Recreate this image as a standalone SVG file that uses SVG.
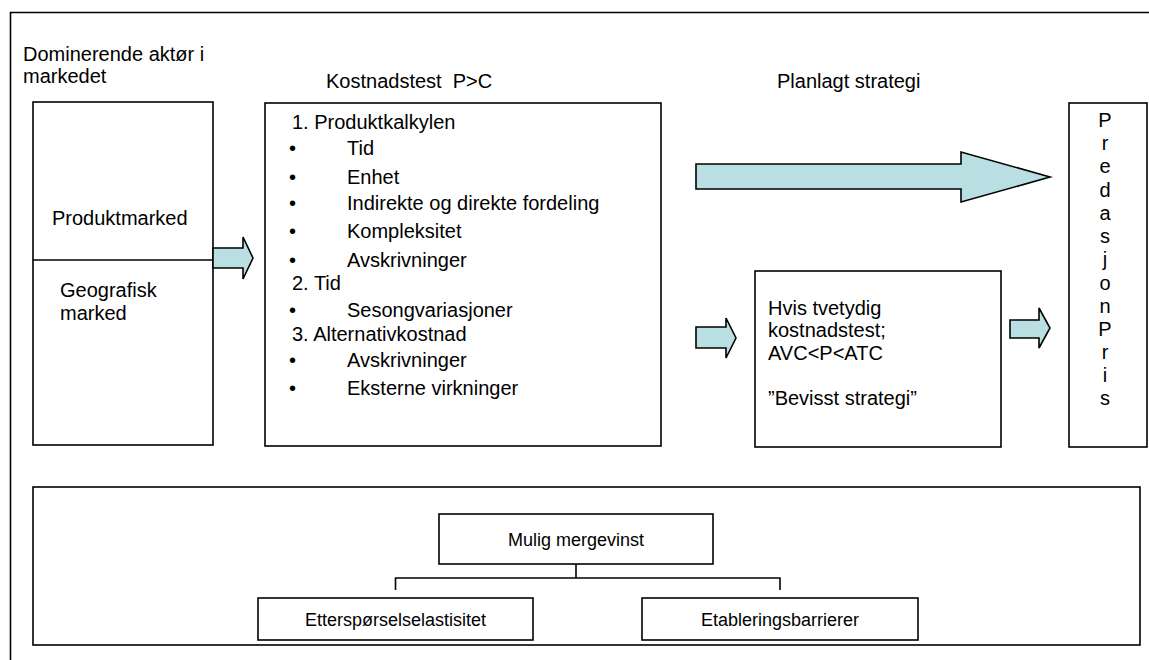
<svg xmlns="http://www.w3.org/2000/svg" width="1149" height="660" viewBox="0 0 1149 660">
<style>
  text { font-family: "Liberation Sans", Arial, sans-serif; font-size: 20px; fill: #000; }
  .box { fill: #fff; stroke: #000; stroke-width: 1.6; }
  .frame { fill: none; stroke: #000; stroke-width: 1.6; }
  .arrow { fill: #B9DFE2; stroke: #000; stroke-width: 1.6; stroke-linejoin: miter; }
  .line { fill: none; stroke: #000; stroke-width: 1.6; }
  .small { font-size: 18px; }
  .mid { text-anchor: middle; }
</style>
<rect width="1149" height="660" fill="#fff"/>
<path class="line" d="M10.5,660 V12.5 H1149"/>

<g id="header-labels">
  <text x="23" y="61">Dominerende aktør i</text>
  <text x="23" y="83">markedet</text>
  <text x="326" y="88" xml:space="preserve">Kostnadstest  P&gt;C</text>
  <text x="777" y="88">Planlagt strategi</text>
</g>

<g id="marked">
  <rect class="box" x="33" y="102" width="180" height="343"/>
  <line class="line" x1="33" y1="260" x2="213" y2="260"/>
  <text x="52" y="225">Produktmarked</text>
  <text x="60" y="297">Geografisk</text>
  <text x="60" y="320">marked</text>
</g>

<g id="kostnadstest">
  <rect class="box" x="265" y="103" width="396" height="343"/>
  <text x="292" y="129">1. Produktkalkylen</text>
  <text x="289" y="155">•</text><text x="347" y="155">Tid</text>
  <text x="289" y="184">•</text><text x="347" y="184">Enhet</text>
  <text x="289" y="210">•</text><text x="347" y="210">Indirekte og direkte fordeling</text>
  <text x="289" y="238">•</text><text x="347" y="238">Kompleksitet</text>
  <text x="289" y="267">•</text><text x="347" y="267">Avskrivninger</text>
  <text x="292" y="290">2. Tid</text>
  <text x="289" y="317">•</text><text x="347" y="317">Sesongvariasjoner</text>
  <text x="292" y="341">3. Alternativkostnad</text>
  <text x="289" y="367">•</text><text x="347" y="367">Avskrivninger</text>
  <text x="289" y="395">•</text><text x="347" y="395">Eksterne virkninger</text>
</g>

<g id="tvetydig">
  <rect class="box" x="755" y="271" width="246" height="176"/>
  <text x="768" y="315">Hvis tvetydig</text>
  <text x="768" y="337">kostnadstest;</text>
  <text x="768" y="360">AVC&lt;P&lt;ATC</text>
  <text x="768" y="405">”Bevisst strategi”</text>
</g>

<g id="predasjonspris">
  <rect class="box" x="1069" y="103" width="78" height="344"/>
  <g class="mid">
    <text x="1105" y="127">P</text>
    <text x="1105" y="150">r</text>
    <text x="1105" y="173">e</text>
    <text x="1105" y="197">d</text>
    <text x="1105" y="220">a</text>
    <text x="1105" y="243">s</text>
    <text x="1105" y="266">j</text>
    <text x="1105" y="290">o</text>
    <text x="1105" y="313">n</text>
    <text x="1105" y="336">P</text>
    <text x="1105" y="359">r</text>
    <text x="1105" y="382">i</text>
    <text x="1105" y="405">s</text>
  </g>
</g>

<g id="mergevinst-ramme">
  <rect class="frame" x="33" y="487" width="1107" height="158"/>
</g>

<g id="connectors">
  <polygon class="arrow" points="213,248 243,248 243,237 253,258 243,279 243,268 213,268"/>
  <polygon class="arrow" points="696,164 961,164 961,152 1050,177 961,202 961,189 696,189"/>
  <polygon class="arrow" points="696,327 726,327 726,318 736,338 726,358 726,348 696,348"/>
  <polygon class="arrow" points="1010,320 1039,320 1039,308 1050,328 1039,348 1039,338 1010,338"/>
  <path class="line" d="M576,564 V578 M395.5,590 V578 H780 V590"/>
</g>

<g id="mergevinst">
  <rect class="box" x="439" y="514" width="274" height="50"/>
  <text class="small mid" x="576" y="546">Mulig mergevinst</text>
</g>

<g id="ettersporsel">
  <rect class="box" x="258" y="598" width="275" height="42"/>
  <text class="small mid" x="395.5" y="626">Etterspørselselastisitet</text>
</g>

<g id="etablering">
  <rect class="box" x="642" y="598" width="276" height="42"/>
  <text class="small mid" x="780" y="626">Etableringsbarrierer</text>
</g>
</svg>
